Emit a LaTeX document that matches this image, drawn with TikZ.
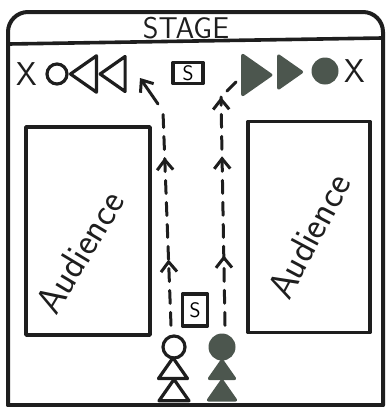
\documentclass[tikz,border=0pt]{standalone}
\usepackage{fontspec}
\usetikzlibrary{shapes.geometric,arrows.meta,decorations.markings}
\definecolor{ink}{RGB}{30,30,30}
\definecolor{shade}{RGB}{76,86,78}
\begin{document}
\begin{tikzpicture}[x=1pt,y=-1pt,
  line cap=round,line join=round,
  pen/.style={draw=ink,line width=3.6pt},
  tri/.style={isosceles triangle,isosceles triangle apex angle=70,inner sep=0pt,
              line width=3.2pt,draw=ink},
  hollow/.style={tri,fill=white},
  filled/.style={tri,draw=shade,fill=shade},
  ring/.style={circle,inner sep=0pt,draw=ink,line width=3.2pt},
  dot/.style={circle,inner sep=0pt,fill=shade},
  cross/.style={font=\sffamily\fontsize{33}{33}\selectfont,text=ink,inner sep=0pt},
  sbox/.style={draw=ink,line width=3.2pt,font=\sffamily\fontsize{21}{21}\selectfont,inner sep=0pt},
  seat/.style={draw=ink,line width=3.6pt},
  crowd/.style={font=\sffamily\fontsize{38}{38}\selectfont,text=ink},
  walk/.style={draw=ink,line width=3pt,dash pattern=on 13pt off 9pt},
  tip/.style={solid,line width=3pt},
  midtip/.tip={Straight Barb[length=10pt,width=16pt,line width=3pt]},
]
\useasboundingbox (0,0) rectangle (391,407);

% outer frame and stage edge
\draw[pen,line width=4pt,rounded corners=20pt] (8,405) -- (8,12) -- (383,12) -- (383,405);
\draw[pen,line width=4pt] (8,405) -- (383,405);
\draw[pen] (9,44) -- (382,38);
\node[font=\sffamily\fontsize{30}{30}\selectfont,text=ink] (stage) at (186,28) {STAGE};

% positions on stage
\node[cross] (xl) at (27,74) {X};
\node[ring,minimum size=20pt] (cl) at (57,74) {};
\node[hollow,shape border rotate=180,minimum height=26pt,minimum width=23pt] (tl1) at (87,74) {};
\node[hollow,shape border rotate=180,minimum height=25pt,minimum width=27pt] (tl2) at (116,74) {};
\node[sbox,minimum width=30pt,minimum height=21pt] (st) at (188,73) {S};
\node[filled,minimum height=28pt,minimum width=33pt] (tr1) at (253,75) {};
\node[filled,minimum height=22pt,minimum width=32pt] (tr2) at (287,72) {};
\node[dot,minimum size=27pt] (cr) at (325,71) {};
\node[cross] (xr) at (355,71) {X};

% audience blocks
\node[seat,minimum width=124pt,minimum height=208pt] (audl) at (88,231) {};
\node[seat,minimum width=122pt,minimum height=211pt] (audr) at (309,227) {};
\node[crowd,rotate=59] (txl) at (80,252) {Audience};
\node[crowd,rotate=62] (txr) at (309,236) {Audience};

% performers waiting at the bottom
\node[sbox,minimum width=25pt,minimum height=32pt] (sb) at (195,310) {S};
\node[ring,minimum size=22pt] (hc) at (174,347) {};
\node[hollow,shape border rotate=90,minimum height=18pt,minimum width=29pt] (ht1) at (173,371) {};
\node[hollow,shape border rotate=90,minimum height=17pt,minimum width=30pt] (ht2) at (174,393) {};
\node[dot,minimum size=27pt] (fc) at (222,347) {};
\node[filled,shape border rotate=90,minimum height=17pt,minimum width=25pt] (ft1) at (222,372) {};
\node[filled,shape border rotate=90,minimum height=19pt,minimum width=27pt] (ft2) at (222,393) {};

% walking routes
\coordinate (lbend) at (163,112);
\coordinate (lend) at (140,78);
\coordinate (rtop) at (221,97);
\coordinate (rgo) at (227,91);
\coordinate (rend) at (236,82);

\draw[walk,postaction={decorate,decoration={markings,
      mark=at position 66pt with {\arrow[tip]{midtip}},
      mark=at position 168pt with {\arrow[tip]{midtip}}}}]
  (hc.north) ++(-3,-9) -- (lbend);
\draw[draw=ink,line width=3pt,-{midtip}] (lbend) ++(-5,-8) -- (lend);
\draw[walk,postaction={decorate,decoration={markings,
      mark=at position 70pt with {\arrow[tip]{midtip}},
      mark=at position 169pt with {\arrow[tip]{midtip}},
      mark=at position 1 with {\arrow[tip]{midtip}}}}]
  (fc.north) ++(3,-8) -- (rtop);
\draw[draw=ink,line width=3pt] (rgo) -- (rend);
\end{tikzpicture}
\end{document}
